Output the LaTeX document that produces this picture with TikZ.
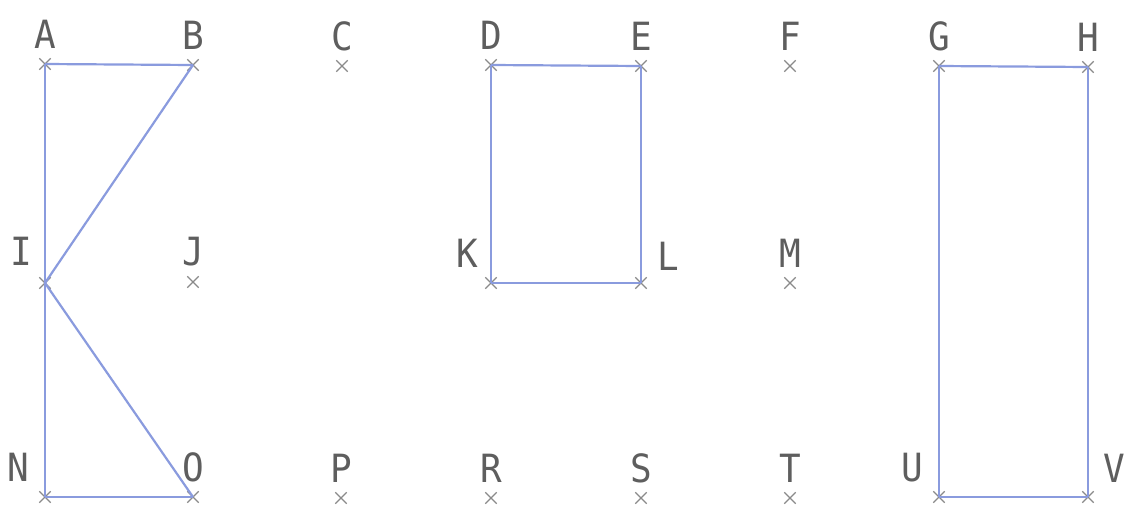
\documentclass[tikz,border=0pt]{standalone}
\usepackage{fontspec}
\setmonofont{DejaVu Sans Mono}
\usetikzlibrary{shapes.misc}
\definecolor{linecol}{HTML}{8A9BDE}
\definecolor{crosscol}{HTML}{8A8A8A}
\definecolor{labcol}{HTML}{5E5E5E}
\tikzset{
  ptmark/.style={cross out, draw=crosscol, line width=1.3pt, minimum size=10pt, inner sep=0pt},
  lab/.style={text=labcol, font=\ttfamily\fontsize{36}{40}\selectfont, inner sep=0pt, yscale=1.08},
  seg/.style={draw=linecol, line width=2.2pt}
}
\begin{document}
\begin{tikzpicture}[x=1pt,y=-1pt]
\useasboundingbox (0,0) rectangle (1128,517);
\foreach \n/\x/\y/\dx/\dy in {
  A/45/64/0/-30, B/193/65/0/-30, C/342/66/0/-30, D/491/65/0/-30,
  E/641/66/0/-30, F/790/66/0/-30, G/939/66/0/-30, H/1088/67/0/-30,
  I/45/283/-24/-32, J/193/282/0/-30, K/491/283/-24/-30, L/641/283/27/-27, M/790/283/0/-30,
  N/45/497/-27/-30, O/193/497/0/-30, P/341/498/0/-30, R/491/498/0/-30,
  S/641/498/0/-30, T/790/498/0/-30, U/939/497/-27/-29, V/1088/497/26/-29}
{
  \node[ptmark] (\n) at (\x,\y) {};
  \node[lab] (l\n) at (\x+\dx,\y+\dy) {\n};
}
\draw[seg] (A.center) -- (B.center);
\draw[seg] (A.center) -- (N.center);
\draw[seg] (B.center) -- (I.center);
\draw[seg] (I.center) -- (O.center);
\draw[seg] (N.center) -- (O.center);
\draw[seg] (D.center) -- (E.center);
\draw[seg] (D.center) -- (K.center);
\draw[seg] (E.center) -- (L.center);
\draw[seg] (K.center) -- (L.center);
\draw[seg] (G.center) -- (H.center);
\draw[seg] (G.center) -- (U.center);
\draw[seg] (H.center) -- (V.center);
\draw[seg] (U.center) -- (V.center);
\end{tikzpicture}
\end{document}
